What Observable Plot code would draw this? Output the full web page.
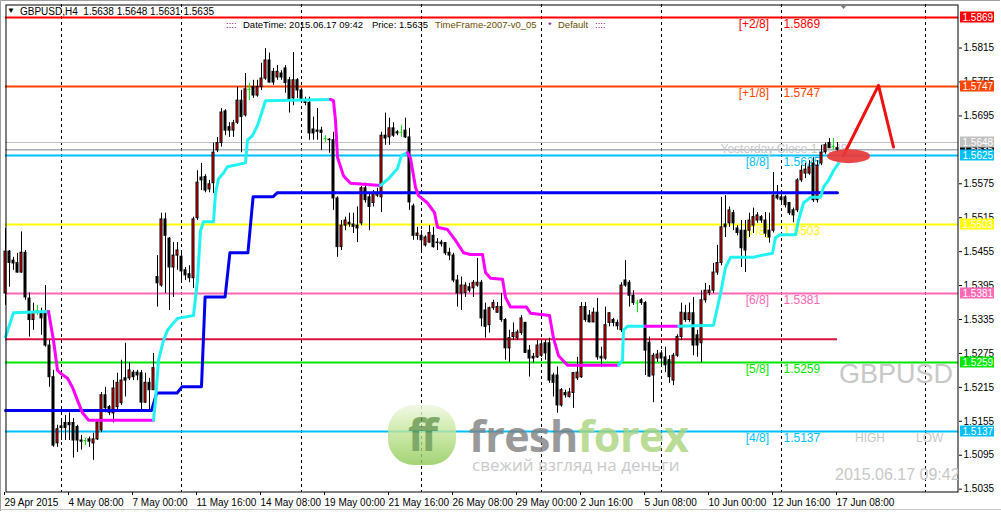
<!DOCTYPE html>
<html><head><meta charset="utf-8">
<script src="https://cdn.jsdelivr.net/npm/d3@7"></script>
<script src="https://cdn.jsdelivr.net/npm/@observablehq/plot@0.6"></script>
<style>
html,body{margin:0;padding:0;background:#fff;}
#wrap{position:relative;width:1001px;height:512px;overflow:hidden;font-family:"Liberation Sans",Arial,sans-serif;}
#wrap svg{display:block;}
.ov{position:absolute;white-space:pre;line-height:1;}
</style></head><body><div id="wrap"></div>
<script>
// ---------- DATA (GBPUSD H4, 29 Apr 2015 16:00 .. 17 Jun 2015 08:00) ----------
const opens = [
1.5381,1.5455,1.5439,1.5435,1.5418,1.5453,1.5372,1.5334,1.5351,1.5347,
1.5346,1.5289,1.5233,1.5116,1.5146,1.5152,1.5152,1.5152,1.5145,1.5121,
1.5121,1.5123,1.5116,1.5123,1.5139,1.5201,1.5180,1.5169,1.5180,1.5187,
1.5231,1.5231,1.5241,1.5241,1.5240,1.5188,1.5223,1.5210,1.5410,1.5395,
1.5512,1.5478,1.5427,1.5448,1.5446,1.5422,1.5415,1.5408,1.5514,1.5586,
1.5587,1.5565,1.5576,1.5634,1.5647,1.5703,1.5675,1.5669,1.5683,1.5722,
1.5696,1.5742,1.5746,1.5731,1.5746,1.5761,1.5793,1.5773,1.5763,1.5770,
1.5779,1.5758,1.5726,1.5758,1.5740,1.5722,1.5718,1.5671,1.5669,1.5669,
1.5655,1.5653,1.5652,1.5549,1.5463,1.5501,1.5506,1.5503,1.5501,1.5505,
1.5567,1.5551,1.5541,1.5554,1.5551,1.5660,1.5657,1.5673,1.5666,1.5666,
1.5669,1.5657,1.5535,1.5483,1.5483,1.5466,1.5471,1.5483,1.5471,1.5468,
1.5470,1.5453,1.5448,1.5404,1.5381,1.5382,1.5392,1.5390,1.5395,1.5400,
1.5351,1.5325,1.5355,1.5347,1.5357,1.5334,1.5284,1.5304,1.5302,1.5311,
1.5329,1.5280,1.5269,1.5268,1.5271,1.5293,1.5293,1.5236,1.5236,1.5183,
1.5205,1.5198,1.5205,1.5231,1.5233,1.5357,1.5342,1.5330,1.5347,1.5269,
1.5266,1.5329,1.5334,1.5329,1.5316,1.5404,1.5400,1.5377,1.5364,1.5369,
1.5364,1.5294,1.5236,1.5266,1.5275,1.5268,1.5263,1.5227,1.5271,1.5304,
1.5346,1.5334,1.5346,1.5307,1.5293,1.5369,1.5382,1.5386,1.5418,1.5435,
1.5503,1.5505,1.5523,1.5496,1.5492,1.5492,1.5492,1.5501,1.5510,1.5516,
1.5510,1.5492,1.5492,1.5554,1.5551,1.5551,1.5541,1.5528,1.5528,1.5581,
1.5593,1.5593,1.5611,1.5546,1.5611,1.5631,1.5647,1.5641,1.5638];
const highs = [
1.5496,1.5457,1.5445,1.5452,1.5490,1.5457,1.5382,1.5364,1.5360,1.5355,
1.5395,1.5298,1.5245,1.5148,1.5160,1.5165,1.5170,1.5160,1.5148,1.5130,
1.5125,1.5127,1.5134,1.5157,1.5206,1.5215,1.5183,1.5227,1.5240,1.5263,
1.5293,1.5259,1.5245,1.5245,1.5245,1.5240,1.5231,1.5275,1.5448,1.5523,
1.5523,1.5480,1.5471,1.5471,1.5457,1.5427,1.5430,1.5516,1.5598,1.5611,
1.5591,1.5581,1.5647,1.5657,1.5708,1.5706,1.5683,1.5687,1.5746,1.5740,
1.5770,1.5753,1.5758,1.5758,1.5788,1.5814,1.5806,1.5779,1.5784,1.5775,
1.5784,1.5763,1.5807,1.5761,1.5744,1.5728,1.5728,1.5693,1.5708,1.5675,
1.5660,1.5655,1.5666,1.5552,1.5510,1.5516,1.5523,1.5523,1.5534,1.5570,
1.5576,1.5558,1.5563,1.5567,1.5666,1.5700,1.5691,1.5683,1.5669,1.5678,
1.5691,1.5673,1.5539,1.5498,1.5492,1.5483,1.5501,1.5498,1.5478,1.5475,
1.5471,1.5461,1.5452,1.5413,1.5410,1.5400,1.5399,1.5404,1.5443,1.5404,
1.5364,1.5357,1.5369,1.5365,1.5381,1.5337,1.5316,1.5329,1.5316,1.5342,
1.5330,1.5289,1.5275,1.5298,1.5298,1.5298,1.5302,1.5240,1.5251,1.5213,
1.5210,1.5213,1.5241,1.5268,1.5365,1.5365,1.5351,1.5355,1.5372,1.5286,
1.5357,1.5347,1.5337,1.5334,1.5400,1.5439,1.5404,1.5386,1.5369,1.5372,
1.5367,1.5304,1.5275,1.5280,1.5280,1.5286,1.5271,1.5275,1.5308,1.5364,
1.5360,1.5364,1.5374,1.5316,1.5386,1.5399,1.5395,1.5434,1.5466,1.5551,
1.5554,1.5534,1.5528,1.5501,1.5510,1.5510,1.5523,1.5532,1.5524,1.5519,
1.5524,1.5523,1.5595,1.5572,1.5558,1.5554,1.5542,1.5532,1.5584,1.5607,
1.5611,1.5616,1.5621,1.5616,1.5643,1.5647,1.5655,1.5655,1.5648];
const lows = [
1.5360,1.5392,1.5422,1.5417,1.5417,1.5369,1.5304,1.5316,1.5342,1.5307,
1.5286,1.5215,1.5109,1.5109,1.5121,1.5121,1.5121,1.5090,1.5100,1.5104,
1.5112,1.5109,1.5086,1.5121,1.5135,1.5170,1.5165,1.5152,1.5174,1.5183,
1.5198,1.5227,1.5227,1.5227,1.5174,1.5187,1.5174,1.5210,1.5357,1.5392,
1.5381,1.5351,1.5374,1.5422,1.5404,1.5404,1.5400,1.5390,1.5510,1.5563,
1.5559,1.5559,1.5558,1.5630,1.5640,1.5660,1.5657,1.5657,1.5680,1.5630,
1.5693,1.5722,1.5726,1.5728,1.5740,1.5758,1.5753,1.5749,1.5758,1.5758,
1.5735,1.5700,1.5713,1.5726,1.5718,1.5713,1.5652,1.5652,1.5652,1.5634,
1.5648,1.5629,1.5528,1.5445,1.5457,1.5492,1.5498,1.5487,1.5471,1.5501,
1.5541,1.5492,1.5534,1.5551,1.5524,1.5643,1.5643,1.5657,1.5660,1.5657,
1.5655,1.5528,1.5475,1.5475,1.5453,1.5463,1.5470,1.5461,1.5457,1.5463,
1.5448,1.5439,1.5400,1.5357,1.5351,1.5374,1.5382,1.5374,1.5392,1.5322,
1.5302,1.5311,1.5351,1.5346,1.5330,1.5263,1.5259,1.5298,1.5298,1.5307,
1.5275,1.5233,1.5258,1.5266,1.5268,1.5263,1.5222,1.5198,1.5169,1.5180,
1.5196,1.5196,1.5178,1.5227,1.5231,1.5330,1.5329,1.5329,1.5263,1.5251,
1.5263,1.5322,1.5322,1.5316,1.5312,1.5392,1.5357,1.5360,1.5347,1.5360,
1.5236,1.5233,1.5188,1.5259,1.5254,1.5241,1.5222,1.5218,1.5268,1.5298,
1.5330,1.5330,1.5271,1.5268,1.5258,1.5364,1.5377,1.5381,1.5413,1.5430,
1.5480,1.5498,1.5492,1.5483,1.5427,1.5418,1.5480,1.5487,1.5505,1.5505,
1.5480,1.5470,1.5488,1.5546,1.5541,1.5532,1.5519,1.5506,1.5524,1.5577,
1.5584,1.5590,1.5542,1.5541,1.5607,1.5627,1.5638,1.5634,1.5631];
const closes = [
1.5455,1.5435,1.5434,1.5418,1.5453,1.5374,1.5334,1.5347,1.5351,1.5337,
1.5289,1.5233,1.5112,1.5141,1.5143,1.5143,1.5148,1.5121,1.5121,1.5119,
1.5121,1.5119,1.5123,1.5153,1.5201,1.5178,1.5170,1.5213,1.5223,1.5227,
1.5227,1.5245,1.5233,1.5236,1.5188,1.5223,1.5210,1.5249,1.5399,1.5512,
1.5483,1.5427,1.5448,1.5457,1.5420,1.5413,1.5408,1.5512,1.5577,1.5581,
1.5563,1.5574,1.5630,1.5647,1.5701,1.5669,1.5669,1.5682,1.5722,1.5693,
1.5742,1.5742,1.5731,1.5746,1.5761,1.5793,1.5754,1.5754,1.5773,1.5763,
1.5753,1.5722,1.5758,1.5740,1.5722,1.5718,1.5664,1.5664,1.5667,1.5665,
1.5655,1.5652,1.5549,1.5463,1.5501,1.5510,1.5503,1.5499,1.5496,1.5567,
1.5546,1.5534,1.5558,1.5559,1.5660,1.5655,1.5673,1.5660,1.5664,1.5666,
1.5657,1.5542,1.5483,1.5487,1.5475,1.5480,1.5488,1.5463,1.5470,1.5471,
1.5452,1.5448,1.5404,1.5381,1.5395,1.5395,1.5386,1.5400,1.5400,1.5337,
1.5322,1.5355,1.5364,1.5357,1.5334,1.5284,1.5302,1.5311,1.5312,1.5337,
1.5276,1.5266,1.5266,1.5289,1.5291,1.5275,1.5227,1.5223,1.5183,1.5210,
1.5201,1.5206,1.5240,1.5241,1.5357,1.5334,1.5330,1.5347,1.5268,1.5266,
1.5325,1.5346,1.5329,1.5323,1.5395,1.5395,1.5377,1.5364,1.5364,1.5364,
1.5280,1.5234,1.5271,1.5273,1.5266,1.5254,1.5233,1.5271,1.5304,1.5347,
1.5334,1.5346,1.5289,1.5289,1.5369,1.5386,1.5386,1.5418,1.5435,1.5498,
1.5498,1.5528,1.5505,1.5488,1.5461,1.5457,1.5510,1.5516,1.5519,1.5510,
1.5487,1.5480,1.5554,1.5549,1.5546,1.5537,1.5523,1.5519,1.5581,1.5598,
1.5600,1.5604,1.5546,1.5607,1.5630,1.5643,1.5638,1.5641,1.5635];

// x-axis labels every 16 bars
const xTickBars = [0,16,32,48,64,80,96,112,128,144,160,176,192,208];
const xTickLabels = ["29 Apr 2015","4 May 08:00","7 May 00:00","11 May 16:00","14 May 08:00","19 May 00:00","21 May 16:00","26 May 08:00","29 May 00:00","2 Jun 16:00","5 Jun 08:00","10 Jun 00:00","12 Jun 16:00","17 Jun 08:00"];
const weekGridBars = [14,44,74,104,134,164,194,230];
// (1.5635 is fully hidden behind the price boxes in the reference)
const yTicks = [1.5035,1.5095,1.5155,1.5215,1.5275,1.5335,1.5395,1.5455,1.5515,1.5575,1.5695,1.5755,1.5815];

// Murrey math levels
const levelPrices = [1.5869,1.5747,1.5625,1.5503,1.5381,1.5259,1.5137];
const levelNames  = ["[+2/8]","[+1/8]","[8/8]","[7/8]","[6/8]","[5/8]","[4/8]"];
const levelColors = ["#FF0000","#FF4500","#00BFFF","#FFFF00","#FF69B4","#00E600","#00BFFF"];
const yesterdayClose = 1.5648;
const bidPrice = 1.5635;
const pivotLevel = 1.5300;

// stepped blue indicator [bar, price]
const bluePts = [[0,1.5174],[36.5,1.5174],[37.8,1.5205],[42.9,1.5205],[44.1,1.5216],[49,1.5216],[49.9,1.5375],[54.9,1.5375],[56.1,1.5453],[60.6,1.5453],[61.9,1.5552],[66.9,1.5552],[67.9,1.5559],[208,1.5559]];

// cyan (up) / magenta (down) trailing line, segments of [bar, price]
const trailTrend = ["up","down","up","down","up","down","up","down","up"];
const trailPts = [
 [[0,1.5304],[2,1.5347],[10.75,1.5349]],
 [[10.75,1.5349],[12,1.5298],[13,1.5245],[13.75,1.5240],[15.5,1.5231],[16.75,1.5215],[18,1.5192],[19.25,1.5170],[20.75,1.5157],[37,1.5157]],
 [[37,1.5157],[37.5,1.5192],[38.25,1.5263],[39.5,1.5298],[40.5,1.5316],[42,1.5329],[43,1.5337],[47,1.5342],[48,1.5404],[48.75,1.5492],[49.5,1.5508],[52,1.5508],[52.5,1.5558],[53.25,1.5584],[54.5,1.5594],[55.5,1.5605],[60,1.5612],[60.5,1.5652],[61.75,1.5660],[63,1.5678],[64.25,1.5705],[65,1.5722],[81.25,1.5724]],
 [[81.25,1.5724],[82,1.5722],[82.5,1.5687],[83,1.5622],[84.5,1.5589],[86.25,1.5576],[93.75,1.5572]],
 [[93.75,1.5572],[95.75,1.5584],[98,1.5602],[99,1.5625],[100.5,1.5630]],
 [[100.5,1.5630],[101.25,1.5620],[102.5,1.5569],[103.25,1.5554],[105.5,1.5541],[107.25,1.5524],[108,1.5498],[110.5,1.5494],[112.5,1.5475],[114.5,1.5453],[116.25,1.5450],[119.25,1.5450],[120,1.5418],[121.25,1.5408],[124.25,1.5406],[125,1.5374],[126.25,1.5357],[130.25,1.5357],[131.25,1.5346],[136,1.5342],[137,1.5302],[138.25,1.5271],[140.5,1.5254],[153.25,1.5254]],
 [[153.25,1.5254],[154.25,1.5263],[154.5,1.5316],[155.5,1.5323],[160,1.5323]],
 [[160,1.5323],[168.25,1.5323]],
 [[168.25,1.5323],[177,1.5325],[178.75,1.5381],[180,1.5427],[181.25,1.5445],[187,1.5445],[188.75,1.5448],[191.75,1.5452],[192.5,1.5480],[193.75,1.5485],[197.5,1.5485],[198.25,1.5510],[199.5,1.5541],[201.25,1.5551],[203.75,1.5551],[204.5,1.5569],[205.75,1.5581],[207,1.5598],[208.25,1.5611]]
];

// hand-drawn forecast (red)
const arrowPts = [[209.5,1.5625],[218.25,1.5749],[222,1.5640]];
const ellipseAt = [210.9,1.5623];

// ---------- BUILD ----------
const candles = opens.map((o,i)=>({i,o,h:highs[i],l:lows[i],c:closes[i]}));
const dojis = candles.filter(d=>d.o===d.c);
const bodies = candles.filter(d=>d.o!==d.c);
const xLabelMap = new Map(xTickBars.map((b,k)=>[b,xTickLabels[k]]));
const CYAN="#22F2F2", MAG="#FF00FF", LIME="#00E600";
const trailData = trailPts.flatMap((seg,k)=>seg.map(([i,p])=>({i,p,seg:k,color:trailTrend[k]==="up"?CYAN:MAG})));
const lv = levelPrices.map((p,k)=>k);

const plot = Plot.plot({
  width:1001, height:512,
  marginTop:4, marginLeft:5, marginRight:43, marginBottom:20,
  x:{domain:[0,238.25]},
  y:{domain:[1.50291,1.58920]},
  color:{type:"identity"},
  style:{fontFamily:"Liberation Sans, Arial, sans-serif",fontSize:"10px",background:"transparent",color:"black",overflow:"visible"},
  marks:[
    Plot.ruleX(weekGridBars,{x:d=>d,stroke:"black",strokeDasharray:"3,3",strokeWidth:1}),
    Plot.ruleY(levelPrices,{y:d=>d,stroke:(d,k)=>levelColors[k],strokeWidth:2}),
    Plot.ruleY([yesterdayClose],{y:d=>d,stroke:"#C0C0C0",strokeWidth:1}),
    Plot.ruleY([bidPrice],{y:d=>d,stroke:"#778899",strokeWidth:1}),
    Plot.text(lv,{x:190.9,y:k=>levelPrices[k],text:k=>levelNames[k],textAnchor:"end",dy:7,fill:k=>levelColors[k],fontSize:12}),
    Plot.text(lv,{x:194.5,y:k=>levelPrices[k],text:k=>levelPrices[k].toFixed(4),textAnchor:"start",dy:7,fill:k=>levelColors[k],fontSize:12}),
    Plot.text([yesterdayClose],{x:178.75,y:d=>d,text:d=>"Yesterday Close "+d.toFixed(4),textAnchor:"start",dy:7,fill:"#C8C8C8",fontSize:12}),
    Plot.ruleY([pivotLevel],{y:d=>d,x1:0,x2:208,stroke:"#DC143C",strokeWidth:2}),
    // candles
    Plot.ruleX(bodies,{x:"i",y1:"l",y2:"h",stroke:"black",strokeWidth:1}),
    Plot.rect(bodies,{x1:d=>d.i-0.25,x2:d=>d.i+0.25,y1:"o",y2:"c",fill:d=>d.c>d.o?"#FF0000":"black",stroke:"black",strokeWidth:1}),
    Plot.ruleX(dojis,{x:"i",y1:"l",y2:"h",stroke:LIME,strokeWidth:1}),
    Plot.ruleY(dojis,{y:"o",x1:d=>d.i-0.375,x2:d=>d.i+0.375,stroke:LIME,strokeWidth:1}),
    // indicators
    Plot.line(bluePts,{x:d=>d[0],y:d=>d[1],stroke:"#0000EE",strokeWidth:3}),
    Plot.line(trailData,{x:"i",y:"p",z:"seg",stroke:"color",strokeWidth:3}),
    Plot.line(arrowPts,{x:d=>d[0],y:d=>d[1],stroke:"#F01010",strokeWidth:3}),
    Plot.frame({stroke:"black",inset:0.5}),
    Plot.axisY(yTicks,{anchor:"right",tickSize:3,tickPadding:2,tickFormat:d=>d.toFixed(4),fontSize:10,label:null}),
    Plot.axisX(xTickBars,{anchor:"bottom",tickSize:3,tickPadding:3,tickFormat:d=>xLabelMap.get(d),textAnchor:"start",dx:-1,fontSize:10,label:null})
  ]
});

const wrap = document.getElementById("wrap");
wrap.appendChild(plot);
const xs = plot.scale("x"), ys = plot.scale("y");
const svg = d3.select(plot);

// ellipse of the forecast
svg.append("ellipse").attr("cx",xs.apply(ellipseAt[0])).attr("cy",ys.apply(ellipseAt[1]))
  .attr("rx",21.5).attr("ry",7).attr("fill","#E83838").attr("opacity",0.92);

// price label boxes on the right axis
const boxes = [[bidPrice,"black"],[levelPrices[0],levelColors[0]],[levelPrices[1],levelColors[1]],[yesterdayClose,"#C0C0C0"],
  [levelPrices[2],levelColors[2]],[levelPrices[3],levelColors[3]],[levelPrices[4],levelColors[4]],[levelPrices[5],levelColors[5]],[levelPrices[6],levelColors[6]]];
const bg = svg.append("g").attr("text-anchor","start");
for (const [p,col] of boxes){
  const y = Math.round(ys.apply(p));
  bg.append("rect").attr("x",960).attr("y",y-5.5).attr("width",34).attr("height",11).attr("fill",col);
  bg.append("text").attr("x",962.5).attr("y",y).attr("dy","0.35em").attr("text-anchor","start").attr("fill","white").attr("font-size",10).text(p.toFixed(4));
}

// overlays (chart texts)
function ov(html, css){ const d=document.createElement("div"); d.className="ov"; d.innerHTML=html; Object.assign(d.style,css); wrap.appendChild(d); return d; }
ov("&#9660;",{left:"7px",top:"7px",fontSize:"8px",color:"black"});
ov("GBPUSD,H4&nbsp; 1.5638 1.5648 1.5631 1.5635",{left:"20px",top:"7px",fontSize:"10px",color:"black"});
ov("::::",{left:"226px",top:"20px",fontSize:"9.5px",color:"#8B008B"});
ov("DateTime: 2015.06.17 09:42",{left:"243px",top:"20px",fontSize:"9.5px",color:"black"});
ov("Price: 1.5635",{left:"372px",top:"20px",fontSize:"9.5px",color:"black"});
ov("TimeFrame-2007-v0_05",{left:"435px",top:"20px",fontSize:"9.5px",color:"#6B4E00"});
ov("*",{left:"548px",top:"20px",fontSize:"9.5px",color:"#8B008B"});
ov("Default",{left:"558px",top:"20px",fontSize:"9.5px",color:"#6B4E00"});
ov("::::",{left:"595px",top:"20px",fontSize:"9.5px",color:"#8B008B"});
ov("GBPUSD",{left:"839px",top:"361px",fontSize:"27px",color:"#C8C8C8"});
ov("HIGH",{left:"855px",top:"432px",fontSize:"12px",color:"#C8C8C8"});
ov("LOW",{left:"916px",top:"432px",fontSize:"12px",color:"#C8C8C8"});
ov("2015.06.17 09:42",{left:"835px",top:"467px",fontSize:"16px",color:"#C8C8C8",width:"123px",overflow:"hidden"});

// watermark + window chrome
const wm = d3.select(wrap).append("svg").attr("width",1001).attr("height",512)
  .style("position","absolute").style("left",0).style("top",0).style("pointer-events","none");
const defs = wm.append("defs");
const g1 = defs.append("linearGradient").attr("id","lg").attr("x1",0).attr("y1",0).attr("x2",0).attr("y2",1);
g1.append("stop").attr("offset",0).attr("stop-color","#eef8df");
g1.append("stop").attr("offset",0.45).attr("stop-color","#c2e596");
g1.append("stop").attr("offset",1).attr("stop-color","#8ec956");
const logo = wm.append("g").attr("opacity",0.8);
logo.append("rect").attr("x",388).attr("y",405).attr("width",68).attr("height",60).attr("rx",26).attr("fill","url(#lg)");
logo.append("text").attr("x",421).attr("y",451).attr("text-anchor","middle").attr("font-family","Open Sans, sans-serif")
  .attr("font-weight","bold").attr("font-size",44).attr("fill","#5f9444").attr("letter-spacing",-4).text("ff");
const ft = logo.append("text").attr("x",469).attr("y",452).attr("font-family","Open Sans, sans-serif").attr("font-weight","bold").attr("font-size",43).attr("letter-spacing",-0.5);
ft.append("tspan").attr("fill","#808080").text("fresh");
ft.append("tspan").attr("fill","#a9d47c").text("forex");
logo.append("text").attr("x",472).attr("y",471).attr("font-family","Open Sans, sans-serif").attr("font-size",17).attr("fill","#bdbdbd").text("свежий взгляд на деньги");
wm.append("polygon").attr("points","839,4 848,4 843.5,9").attr("fill","#808080");
wm.append("path").attr("d","M0.5,511 V0.5 H1000").attr("fill","none").attr("stroke","#a0a0a0").attr("stroke-width",1);
wm.append("line").attr("x1",0).attr("x2",1001).attr("y1",509.5).attr("y2",509.5).attr("stroke","#c8c8c8");
</script></body></html>
